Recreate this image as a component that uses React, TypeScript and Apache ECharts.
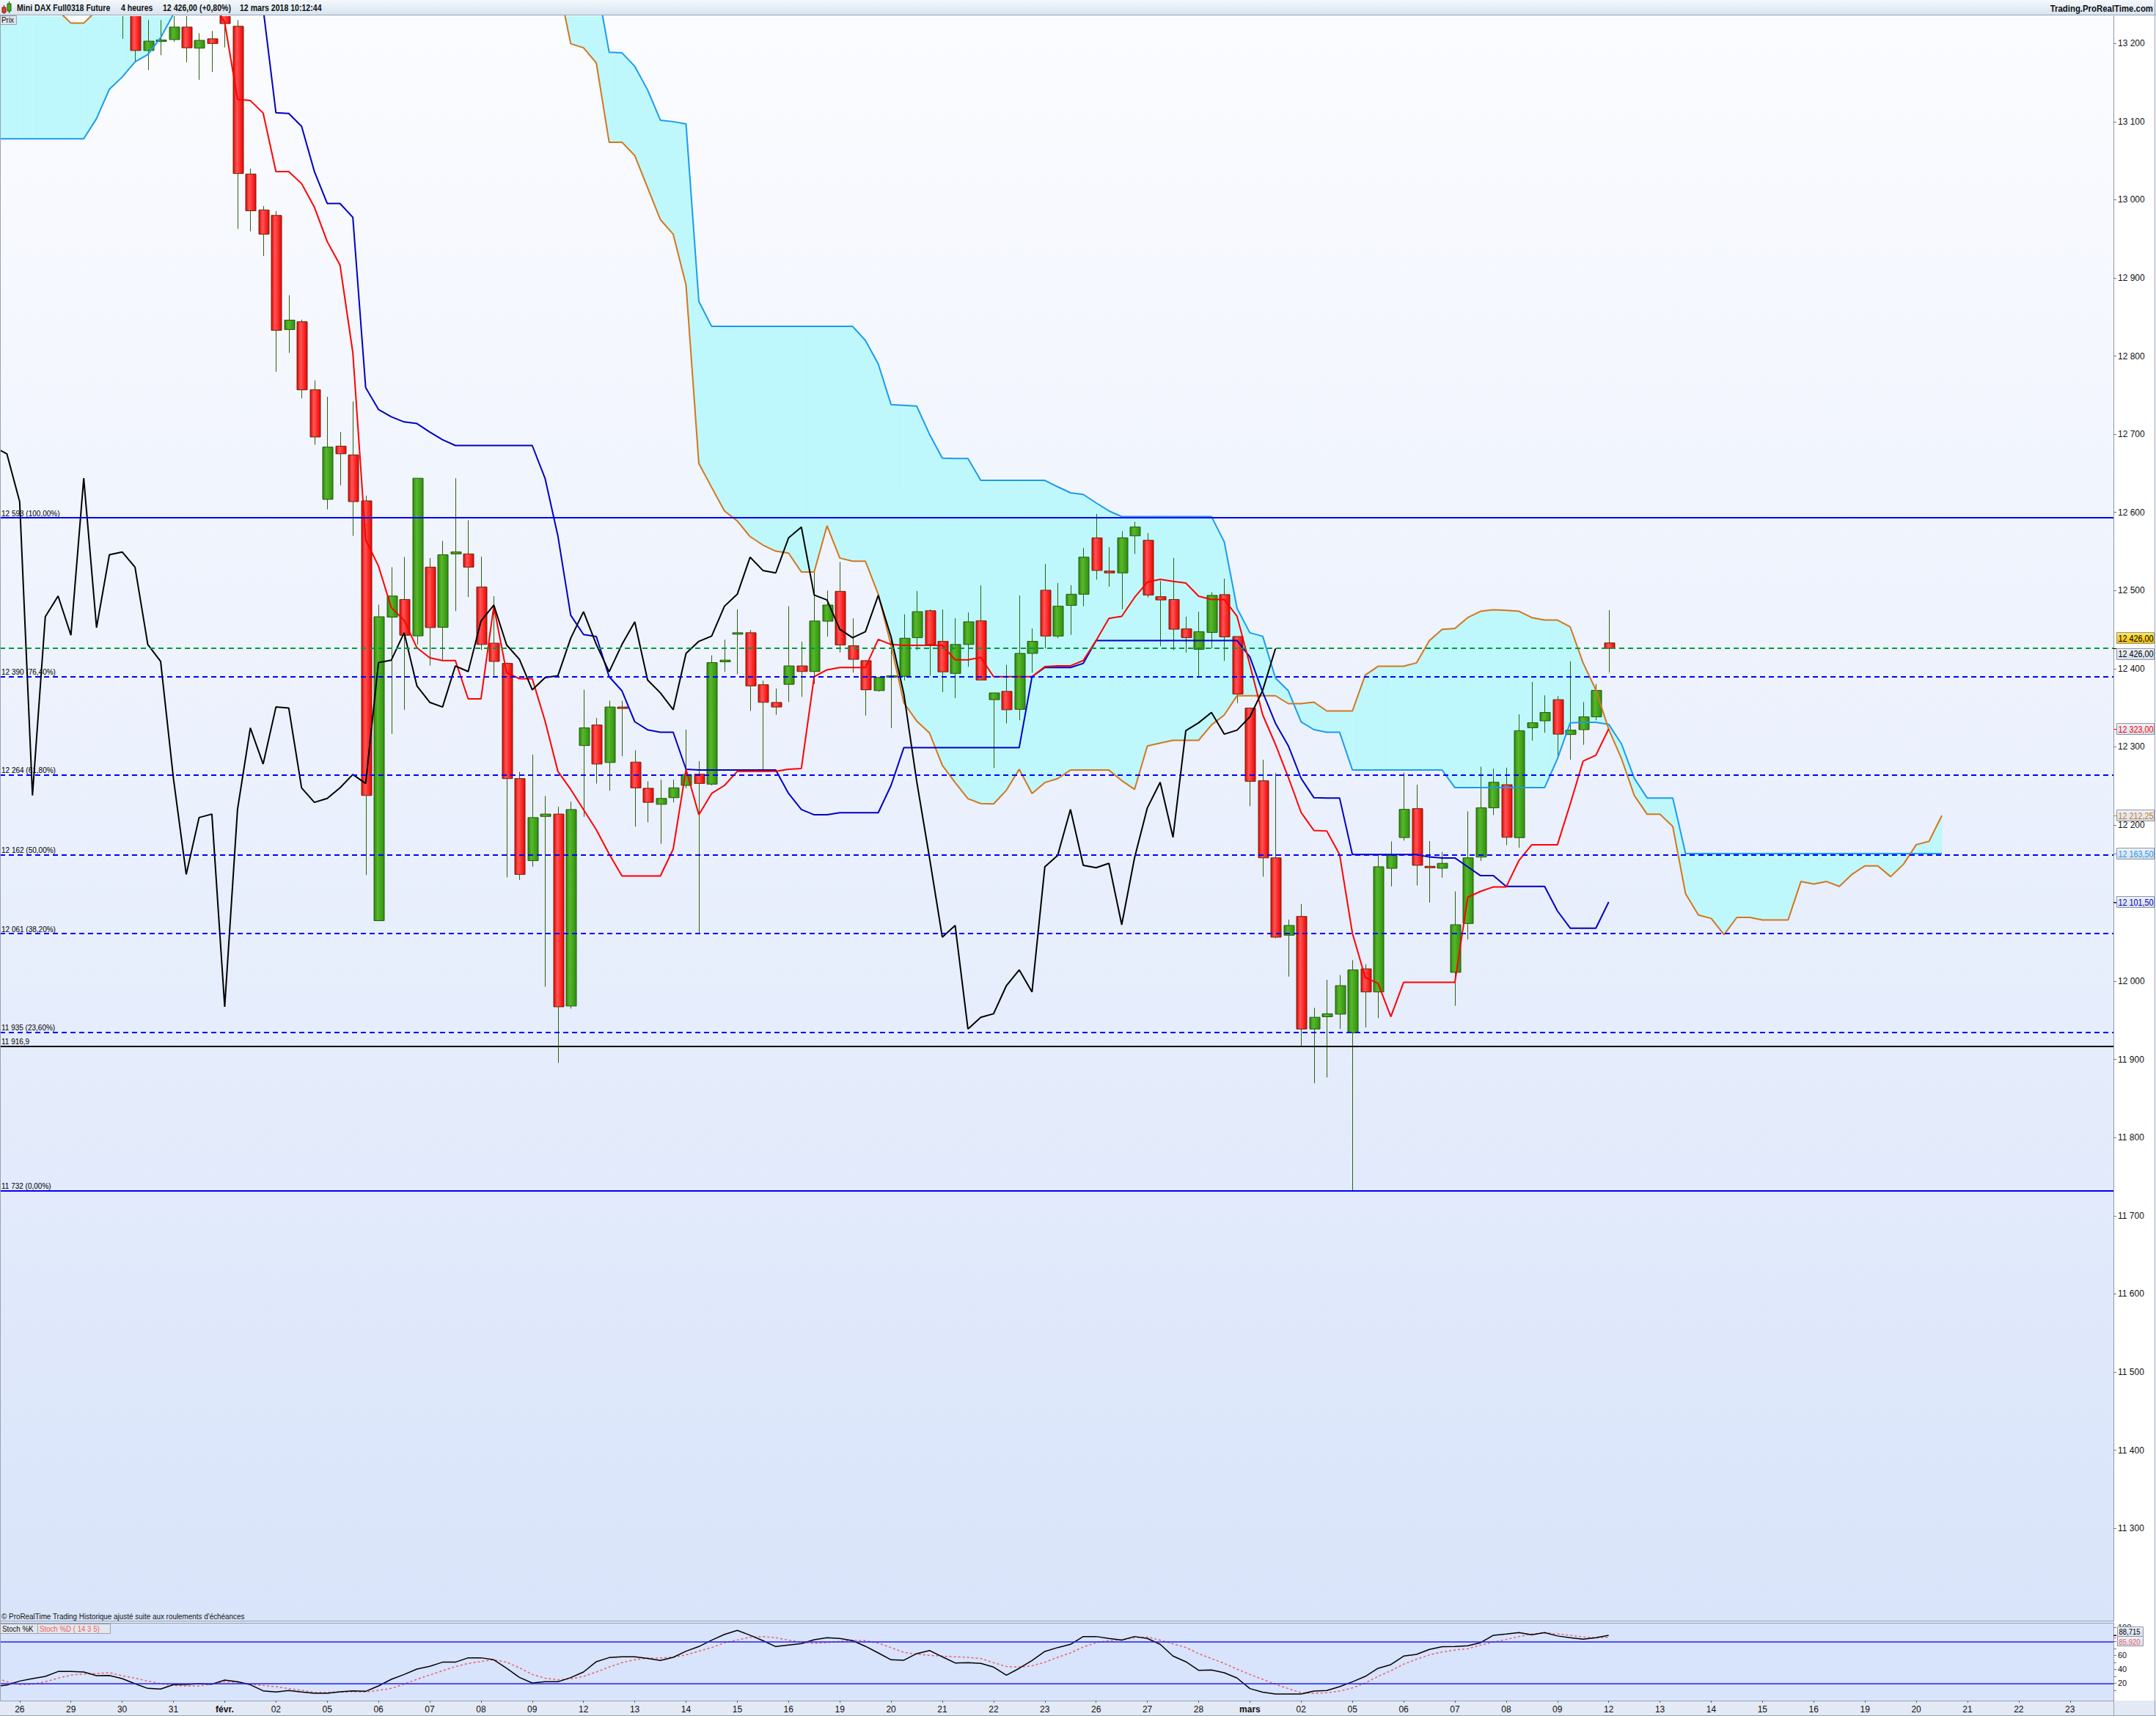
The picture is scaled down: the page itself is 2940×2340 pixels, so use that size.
import React, { useEffect, useRef } from "react";
import * as echarts from "echarts";

// ---------- DATA ----------
// one label per trading session, placed on its first 4-hour bar (bar index = 4 * k)
const DAY_LABELS = ["26", "29", "30", "31", "févr.", "02", "05", "06", "07", "08", "09", "12", "13", "14", "15", "16", "19", "20", "21", "22", "23", "26", "27", "28", "mars", "02", "05", "06", "07", "08", "09", "12", "13", "14", "15", "16", "19", "20", "21", "22", "23"];
const MONTH_LABELS = ["févr.", "mars"];
const BARS_PER_DAY = 4;

// candles, bar index 8 .. 124
const CANDLE_START = 8;
const OPEN = [13236, 13250, 13191, 13203, 13205, 13221, 13194, 13206, 13242, 13222,
  13033, 12987, 12980, 12834, 12844, 12757, 12616.7, 12684.8, 12673.6, 12614.8,
  12077.6, 12466, 12488.6, 12442, 12530, 12453, 12546.9, 12546.9, 12504.6, 12432.7,
  12406.8, 12259.4, 12154.4, 12211, 12214, 11968.4, 12301.7, 12328, 12280, 12351,
  12280.5, 12247, 12226.5, 12235, 12250.7, 12265, 12252.3, 12408.8, 12444.3, 12446,
  12379.5, 12356.8, 12380, 12403.6, 12396.4, 12460.8, 12499, 12429.4, 12410.3, 12372,
  12389, 12390.3, 12439.7, 12474.2, 12435, 12394, 12431, 12461.3, 12360.4, 12371,
  12348, 12419.6, 12500.4, 12441.8, 12481, 12495.3, 12567.4, 12525, 12522.6, 12570,
  12564.3, 12492.2, 12488.6, 12451, 12424.8, 12446.4, 12494.8, 12441.2, 12349.6, 12256.6,
  12158, 12059, 12083, 11939, 11954.7, 11958, 11934, 12016, 11986.4, 12144.6,
  12184, 12221, 12147.2, 12144.7, 12011.5, 12074, 12159, 12222, 12251.6, 12183.8,
  12324.5, 12333.3, 12360.4, 12315.8, 12322, 12338.4, 12433];
const CLOSE = [13250, 13191, 13203, 13204.5, 13221, 13194.5, 13204, 13200, 13225.5, 13033.6,
  12986, 12956, 12833, 12846, 12756.8, 12696.5, 12683.6, 12675, 12613.8, 12237.8,
  12466.5, 12493, 12442.8, 12643.7, 12452.6, 12545.8, 12549.4, 12530, 12431, 12409.3,
  12259.4, 12136.8, 12209.5, 12214, 11967.4, 12219.8, 12324.3, 12278, 12351, 12349.6,
  12247.5, 12229, 12234, 12247.6, 12264.6, 12253.2, 12407.8, 12411, 12446, 12378,
  12357, 12351, 12403.6, 12396.4, 12461, 12481.5, 12430.4, 12412, 12373, 12388.7,
  12391, 12439, 12473, 12431, 12396, 12431, 12460, 12385.6, 12369, 12347.5,
  12419.6, 12435, 12441.8, 12480, 12495.3, 12542.7, 12525.7, 12522.6, 12567.4, 12581.3,
  12494.3, 12488, 12450.5, 12439.7, 12447.4, 12493.8, 12440.7, 12367.6, 12255.9, 12158,
  12056.5, 12071.5, 11939, 11954, 11958.5, 11994.5, 12014.6, 11986.4, 12146.6, 12161,
  12220, 12148.5, 12145.4, 12151, 12072.4, 12158, 12222, 12254.7, 12184.3, 12320.7,
  12330.8, 12344, 12316.3, 12321.4, 12338.4, 12372.3, 12426];
const LOW = [13206, 13176, 13166, 13185, 13202, 13176, 13153.5, 13163.5, 13195, 12962.6,
  12959.5, 12928, 12780, 12804, 12746, 12686.6, 12603.8, 12634.8, 12570, 12136,
  12077, 12316.6, 12347.5, 12431, 12404, 12411.4, 12473.7, 12491.7, 12424, 12391,
  12133, 12129.7, 12146.7, 11993, 11895.6, 11965, 12210.5, 12253, 12244, 12288,
  12198, 12203.6, 12176, 12229, 12247, 12061, 12250.7, 12396, 12393, 12346,
  12271.3, 12341, 12357.5, 12364, 12380.5, 12441, 12420.7, 12395, 12340, 12370.6,
  12324, 12385, 12423.8, 12391, 12370, 12362.4, 12402.5, 12385, 12273, 12330,
  12334, 12395, 12425.8, 12439, 12443.3, 12480, 12514, 12505, 12476, 12547,
  12491.2, 12428.8, 12423.8, 12420.6, 12388, 12425.8, 12410, 12356, 12224, 12134,
  12055, 12006, 11916, 11869.7, 11877, 11939, 11732, 11941, 11953, 12121.5,
  12180, 12122.7, 12100.7, 12132.6, 11968.7, 12053.6, 12154, 12212.7, 12174.3, 12171,
  12308, 12318, 12284.7, 12283.6, 12302.6, 12334, 12395];
const HIGH = [13262, 13256, 13230, 13230, 13235, 13235, 13213, 13216, 13250, 13230,
  13040, 12992, 12985.6, 12878, 12846.7, 12769, 12748, 12703, 12742, 12621.5,
  12482, 12530, 12543, 12643.7, 12541.7, 12563.5, 12643.7, 12590, 12543.4, 12492.8,
  12408, 12268, 12290, 12237, 12223.4, 12230, 12373, 12337, 12359, 12359,
  12295.6, 12256, 12258, 12258, 12322, 12281.6, 12417, 12437.3, 12476, 12449.5,
  12384.7, 12374.5, 12480, 12434.5, 12523.6, 12500, 12536.6, 12464.5, 12411, 12389.8,
  12441, 12469.6, 12499.4, 12475.8, 12475.8, 12464.5, 12472, 12506.7, 12369, 12405,
  12493.8, 12451.5, 12534, 12509.7, 12507, 12554.6, 12598, 12555.6, 12576, 12588,
  12573.6, 12512.3, 12541.7, 12466.5, 12473, 12498, 12515.3, 12441.2, 12349.6, 12283.6,
  12266.4, 12079, 12099, 11966, 12002, 12008, 12027, 12022, 12162, 12179,
  12267, 12251.6, 12179.4, 12165.5, 12115, 12217.5, 12274.6, 12272, 12273.4, 12341.5,
  12383, 12366, 12364.8, 12409.4, 12357.3, 12380.5, 12475];

// Ichimoku: Tenkan (red), bars 15 .. 124
const TENKAN_START = 15;
const TENKAN = [13255, 13227, 13128.6, 13127, 13111, 13036, 13036, 13020.7, 12990.5, 12946.6,
  12916.4, 12804.3, 12565, 12531.4, 12478.3, 12461.9, 12426.8, 12414, 12410.4, 12410.4,
  12361.4, 12361.4, 12479.9, 12394.9, 12387.2, 12387.2, 12333, 12268.7, 12245.6, 12219.8,
  12194, 12163, 12134.8, 12134.8, 12134.8, 12134.8, 12169.3, 12271.3, 12213.1, 12240.4,
  12250.7, 12268.7, 12268.7, 12268.7, 12268.7, 12271.3, 12272.3, 12389.8, 12398.5, 12401.6,
  12401.6, 12401.6, 12437.6, 12431, 12429.9, 12429.9, 12429.9, 12429.9, 12411.4, 12411.4,
  12414.5, 12389.8, 12389.8, 12389.8, 12389.8, 12402.6, 12403.7, 12403.7, 12410.4, 12436.1,
  12464.4, 12467, 12491.2, 12510.8, 12514.4, 12511.8, 12509.7, 12492.8, 12488.6, 12488.6,
  12467, 12405, 12341, 12303, 12261, 12216, 12193, 12192.4, 12162.3, 12061.7,
  12005, 11997.5, 11954.8, 11998.8, 11998.8, 11998.8, 11998.8, 11998.8, 12107.6, 12115.1,
  12120.8, 12120.8, 12154.7, 12174.8, 12174.8, 12174.8, 12227, 12281.7, 12289.3, 12323];

// Kijun (dark blue), bars 19 .. 124
const KIJUN_START = 19;
const KIJUN = [13245, 13111.3, 13110.4, 13094, 13036.2, 12995.3, 12995.3, 12977.6, 12759.8, 12731.8,
  12722.3, 12715.8, 12713.7, 12702.9, 12693, 12685.6, 12685.6, 12685.6, 12685.6, 12685.6,
  12685.6, 12685.6, 12643.6, 12570, 12468.5, 12443.8, 12441.2, 12389.8, 12371.7, 12332.1,
  12321.8, 12318.7, 12318.7, 12271.3, 12270.3, 12270.3, 12270.3, 12270.3, 12270.3, 12270.3,
  12270.3, 12240.4, 12219.8, 12213.1, 12213.1, 12215.7, 12215.7, 12215.7, 12215.7, 12250.7,
  12299.1, 12299.1, 12299.1, 12299.1, 12299.1, 12299.1, 12299.1, 12299.1, 12299.1, 12299.1,
  12389.8, 12401.6, 12401.6, 12401.6, 12406.8, 12436.1, 12436.1, 12436.1, 12436.1, 12436.1,
  12436.1, 12436.1, 12436.1, 12436.1, 12436.1, 12436.1, 12436.1, 12415, 12370, 12330,
  12301.4, 12259.6, 12234.9, 12234.6, 12234.6, 12162.3, 12162.3, 12162.3, 12162.3, 12162.3,
  12162.3, 12159.1, 12157.9, 12157.9, 12146.5, 12135.2, 12135.2, 12121.4, 12121.4, 12121.4,
  12121.4, 12090, 12068, 12068, 12068, 12101.5];

// Chikou (black), bars -2 .. 98
const CHIKOU_START = -2;
const CHIKOU = [12683.6, 12675, 12613.8, 12237.8, 12466.5, 12493, 12442.8, 12643.7, 12452.6, 12545.8,
  12549.4, 12530, 12431, 12409.3, 12259.4, 12136.8, 12209.5, 12214, 11967.4, 12219.8,
  12324.3, 12278, 12351, 12349.6, 12247.5, 12229, 12234, 12247.6, 12264.6, 12253.2,
  12407.8, 12411, 12446, 12378, 12357, 12351, 12403.6, 12396.4, 12461, 12481.5,
  12430.4, 12412, 12373, 12388.7, 12391, 12439, 12473, 12431, 12396, 12431,
  12460, 12385.6, 12369, 12347.5, 12419.6, 12435, 12441.8, 12480, 12495.3, 12542.7,
  12525.7, 12522.6, 12567.4, 12581.3, 12494.3, 12488, 12450.5, 12439.7, 12447.4, 12493.8,
  12440.7, 12367.6, 12255.9, 12158, 12056.5, 12071.5, 11939, 11954, 11958.5, 11994.5,
  12014.6, 11986.4, 12146.6, 12161, 12220, 12148.5, 12145.4, 12151, 12072.4, 12158,
  12222, 12254.7, 12184.3, 12320.7, 12330.8, 12344, 12316.3, 12321.4, 12338.4, 12372.3, 12426];

// Senkou spans (plotted 26 bars ahead), bars -2 .. 150
const SPAN_START = -2;
const SENKOU_A = [13270, 13266, 13262, 13258, 13252, 13242, 13226, 13226, 13242, 13290,
  13300, 13300, 13300, 13300, 13300, 13300, 13300, 13300, 13300, 13300,
  13300, 13300, 13300, 13300, 13300, 13300, 13300, 13300, 13300, 13300,
  13300, 13300, 13300, 13300, 13300, 13300, 13300, 13300, 13300, 13300,
  13300, 13300, 13300, 13300, 13280, 13199.7, 13194.5, 13175, 13073.7, 13073.7,
  13056.5, 13015.5, 12974.6, 12955.9, 12891, 12662.7, 12632, 12601.9, 12589, 12569,
  12558.2, 12550.4, 12547.9, 12523.7, 12523.7, 12582.9, 12541.7, 12537.6, 12537.6, 12495.3,
  12430, 12356.3, 12333.1, 12317.7, 12276.4, 12254.3, 12233.7, 12227.5, 12227, 12244.5,
  12271.3, 12240.4, 12254.3, 12259.4, 12270.3, 12270.3, 12270.3, 12270.3, 12256.9, 12245.6,
  12301.2, 12304.8, 12308.4, 12308.4, 12308.4, 12328, 12340.8, 12365.5, 12365.5, 12365.4,
  12365.4, 12355.3, 12355.3, 12357.2, 12345.9, 12345.9, 12345.9, 12391.8, 12403.1, 12403.1,
  12403.1, 12407.5, 12435.8, 12450.3, 12451.5, 12465.4, 12473.5, 12475.4, 12474.8, 12473.5,
  12465.4, 12462.2, 12462.2, 12453.4, 12407.5, 12372.9, 12322.6, 12284.9, 12237.7, 12213.8,
  12213.8, 12198.1, 12112, 12084.9, 12080.5, 12059.8, 12081.8, 12081.8, 12078.6, 12078.6,
  12078.6, 12127.7, 12124.5, 12127.7, 12121.4, 12137.1, 12147.8, 12147.8, 12134, 12149.7,
  12174.8, 12179.2, 12212.25];
const SENKOU_B = [13078, 13078, 13078, 13078, 13078, 13078, 13078, 13078, 13104, 13141.4,
  13157, 13176.4, 13185.9, 13207.4, 13237.6, 13320, 13320, 13320, 13320, 13320,
  13320, 13320, 13320, 13320, 13320, 13320, 13320, 13320, 13320, 13320,
  13320, 13320, 13320, 13320, 13320, 13320, 13320, 13320, 13320, 13320,
  13320, 13320, 13320, 13320, 13320, 13320, 13320, 13280, 13188.9, 13188,
  13170.8, 13140.6, 13101.8, 13100, 13097, 12870, 12838, 12838, 12838, 12838,
  12838, 12838, 12838, 12838, 12838, 12838, 12838, 12838, 12820, 12790,
  12738, 12737, 12736, 12700, 12669.4, 12668.9, 12668.9, 12641, 12641, 12641,
  12641, 12641, 12641, 12632.8, 12625.1, 12623, 12612.2, 12601.9, 12594.7, 12594.7,
  12594.7, 12594.7, 12594.7, 12594.7, 12594.7, 12594.7, 12562.3, 12477.3, 12446, 12441.5,
  12388, 12371.7, 12332, 12322, 12318.8, 12318.8, 12270.4, 12270.4, 12270.4, 12270.4,
  12270.4, 12270.4, 12270.4, 12270.4, 12247.8, 12247.8, 12247.8, 12247.8, 12247.8, 12247.8,
  12247.8, 12247.8, 12284.9, 12330.8, 12331.4, 12331.4, 12328.9, 12303.7, 12259.7, 12234.6,
  12234.6, 12234.6, 12163.5, 12163.5, 12163.5, 12163.5, 12163.5, 12163.5, 12163.5, 12163.5,
  12163.5, 12163.5, 12163.5, 12163.5, 12163.5, 12163.5, 12163.5, 12163.5, 12163.5, 12163.5,
  12163.5, 12163.5, 12163.5];

// Stochastic (14 3 5), bars -2 .. 124
const STOCH_START = -2;
const STOCH_K = [15, 17.5, 23.1, 26.6, 29.8, 36.8, 36.8, 36.1, 30.8, 31.2,
  26.6, 19.3, 12.6, 11.6, 17.9, 18.2, 19.3, 18.6, 24.5, 22.1,
  17.9, 9.1, 7.4, 9.5, 7.4, 5.6, 5.6, 7.7, 9.1, 8.4,
  16.1, 25.6, 32.6, 40.3, 44.2, 50.2, 50.2, 56.5, 56.5, 53.7,
  41.4, 28.4, 20.3, 22.1, 22.1, 28.1, 36.1, 50.9, 56.8, 57.9,
  57.9, 55.5, 52.6, 57.2, 66, 72.6, 81.8, 90, 95.8, 88.8,
  81.1, 72.6, 74.7, 76.8, 82.5, 85.3, 84.2, 81.1, 73, 63.5,
  53.7, 53, 62.5, 67, 57.9, 49.1, 49.5, 48.4, 43.2, 31.6,
  41.4, 52.6, 65.6, 71.2, 75.8, 87, 87, 84.2, 81.8, 87,
  84.2, 75.8, 59, 50.9, 38.6, 39, 35.1, 27.4, 12.3, 7.1,
  4.6, 4.6, 4.6, 8.8, 9.5, 15.1, 22.1, 29.8, 41.4, 46.7,
  59, 61.4, 68.4, 72.3, 72.6, 73.7, 78.3, 88.8, 90.6, 92.7,
  89.5, 92.7, 87.8, 85.3, 83.2, 85.3, 88.715];
const STOCH_D = [29, 22.1, 17.9, 18.6, 22.1, 27.3, 31.6, 33.3, 34, 35.1,
  30.8, 27.3, 23.1, 19.3, 16.8, 16.1, 16.1, 19.3, 22.1, 21.4,
  18.6, 16.8, 15.1, 12.3, 9.8, 7, 7, 7.4, 7.7, 7.4,
  9.8, 12.6, 18.6, 25.6, 31.9, 37.9, 43.9, 48.4, 51.2, 53.7,
  50.2, 42.1, 32.6, 27.3, 24.9, 26.3, 29.8, 36.1, 43.2, 49.5,
  53.7, 56.2, 56.2, 57.2, 60.7, 66, 71.2, 78, 82, 86,
  87, 85.3, 81.8, 78.9, 77.2, 78.3, 80, 81.8, 81.1, 77.5,
  71.2, 64.2, 61.8, 60, 59, 57.9, 57.2, 55.5, 49.5, 43.9,
  43.2, 45, 50.2, 57.2, 63.5, 71.9, 78.3, 81.1, 82.5, 85.3,
  86.3, 81.8, 76.5, 71.2, 62.5, 55.5, 48.4, 40.3, 32.6, 25.6,
  18.6, 12.3, 6.3, 5.6, 6.3, 8.8, 13.3, 20.3, 29.8, 37.9,
  47.4, 54.4, 60.7, 64.9, 67.7, 69.5, 74.7, 78.9, 82.8, 87,
  90.6, 92.3, 90.6, 88.8, 86.3, 85.3, 85.92];

// horizontal levels
const FIB_PRICES = [12593, 12390, 12264, 12162, 12061, 11935, 11732];
const FIB_PCTS = [100, 76.4, 61.8, 50, 38.2, 23.6, 0];
const SUPPORT_LEVEL = 11916.9;
const STOCH_BANDS = [80, 20];

// axis ticks
const PRICE_TICKS = [11300, 11400, 11500, 11600, 11700, 11800, 11900, 12000, 12100, 12200, 12300, 12400, 12500, 12600, 12700, 12800, 12900, 13000, 13100, 13200];
const STOCH_LABELS = [20, 40, 60, 100];
const STOCH_TICKS = [10, 20, 30, 40, 50, 60, 70, 80, 90, 100];

// ---------- LAYOUT ----------
const W = 2940;
const H = 2340;
const PANE_W = 2882;
const PRICE_TOP = 22;
const PRICE_H = 2189;
const STOCH_TOP = 2213;
const STOCH_H = 106;
const X_MIN = -1.534;
const X_MAX = 163.39;
const P_MIN = 11181;
const P_MAX = 13235;
const S_MIN = -4.9;
const S_MAX = 106.6;

const SANS = "'Liberation Sans', Arial, 'DejaVu Sans', sans-serif";
const NARROW = "'Liberation Sans Narrow', 'Arial Narrow', 'Liberation Sans', sans-serif";

const C_ORANGE = "#d4761c";
const C_SKY = "#1b9bef";
const C_KIJUN = "#0000c4";
const C_TENKAN = "#ff0000";
const C_KUMO = "#bff8fc";

function pairs(start: number, arr: number[]) {
  return arr.map((v, k) => [start + k, v]);
}
function fmtInt(v: number) {
  const s = String(Math.round(v));
  return s.length > 3 ? s.slice(0, -3) + " " + s.slice(-3) : s;
}
function fmtDec(v: number, d: number) {
  const parts = v.toFixed(d).split(".");
  return fmtInt(Number(parts[0])) + "," + parts[1];
}
function last(a: number[]) {
  return a[a.length - 1];
}

function renderCandle(params: any, api: any) {
  const i = api.value(0);
  const o = api.value(1);
  const c = api.value(2);
  const lo = api.value(3);
  const hi = api.value(4);
  const po = api.coord([i, o]);
  const pc = api.coord([i, c]);
  const pl = api.coord([i, lo]);
  const ph = api.coord([i, hi]);
  const w = Math.round(api.size([1, 0])[0] * 0.8);
  const x = Math.round(po[0]) + 0.5;
  const top = Math.min(po[1], pc[1]);
  const h = Math.max(Math.abs(po[1] - pc[1]), 2);
  const up = c >= o;
  const fill = up
    ? new echarts.graphic.LinearGradient(0, 0, 1, 0, [
        { offset: 0, color: "#2d8a0b" },
        { offset: 0.35, color: "#58b82c" },
        { offset: 1, color: "#2f900e" },
      ])
    : new echarts.graphic.LinearGradient(0, 0, 1, 0, [
        { offset: 0, color: "#e60000" },
        { offset: 0.35, color: "#ff5656" },
        { offset: 1, color: "#f20000" },
      ]);
  return {
    type: "group",
    children: [
      { type: "line", shape: { x1: x, y1: ph[1], x2: x, y2: pl[1] }, style: { stroke: "#2f6010", lineWidth: 1 } },
      {
        type: "rect",
        shape: { x: Math.round(x - w / 2), y: top, width: w, height: h },
        style: { fill, stroke: up ? "#245a08" : "#6a2a08", lineWidth: 1 },
      },
    ],
  };
}

// one polygon per segment between the two senkou spans
function renderKumo(params: any, api: any) {
  const i = api.value(0);
  const a0 = api.coord([i, api.value(1)]);
  const b0 = api.coord([i, api.value(2)]);
  const a1 = api.coord([i + 1, api.value(3)]);
  const b1 = api.coord([i + 1, api.value(4)]);
  return {
    type: "polygon",
    shape: { points: [a0, a1, b1, b0] },
    style: { fill: C_KUMO, stroke: C_KUMO, lineWidth: 0.6 },
  };
}

function staticGraphics() {
  const els: any[] = [];
  let n = 0;
  const add = (e: any) => {
    e.id = "g" + n++;
    els.push(e);
  };
  const hline = (y: number, x1: number, x2: number, color: string) =>
    add({ type: "line", z: 30, silent: true, shape: { x1, y1: y, x2, y2: y }, style: { stroke: color, lineWidth: 1 } });
  const vline = (x: number, y1: number, y2: number, color: string) =>
    add({ type: "line", z: 30, silent: true, shape: { x1: x, y1, x2: x, y2 }, style: { stroke: color, lineWidth: 1 } });
  hline(20.5, 0, W, "#98a3b0");
  hline(2210.5, 0, PANE_W, "#98a3b0");
  hline(2213.5, 0, PANE_W, "#98a3b0");
  hline(H - 0.5, 0, W, "#98a3b0");
  vline(0.5, 21, STOCH_TOP + STOCH_H, "#98a3b0");
  vline(W - 1.5, 0, H, "#98a3b0");
  vline(PANE_W + 0.5, STOCH_TOP + STOCH_H, H, "#98a3b0");
  // header icon
  add({ type: "line", z: 31, shape: { x1: 5.5, y1: 7, x2: 5.5, y2: 19 }, style: { stroke: "#333", lineWidth: 1 } });
  add({ type: "rect", z: 32, shape: { x: 3, y: 10, width: 5, height: 7 }, style: { fill: "#ff3030", stroke: "#6a2a08", lineWidth: 1 } });
  add({ type: "line", z: 31, shape: { x1: 12.5, y1: 2, x2: 12.5, y2: 18 }, style: { stroke: "#333", lineWidth: 1 } });
  add({ type: "rect", z: 32, shape: { x: 10, y: 5, width: 5, height: 10 }, style: { fill: "#3cb01c", stroke: "#245a08", lineWidth: 1 } });
  const htext = (x: number, text: string, align = "left", size = 12, sx = 0.88) =>
    add({
      type: "text", z: 33, x, y: 11, scaleX: sx,
      style: { text, fill: "#111", fontSize: size, fontWeight: "bold", fontFamily: SANS, align, verticalAlign: "middle" },
    });
  htext(23, "Mini DAX Full0318 Future");
  htext(165, "4 heures");
  htext(222, "12 426,00 (+0,80%)");
  htext(327, "12 mars 2018 10:12:44");
  htext(2936, "Trading.ProRealTime.com", "right", 12, 0.95);
  // "Prix" tab
  add({ type: "rect", z: 33, shape: { x: 0.5, y: 21.5, width: 22, height: 12 }, style: { fill: "#dfe3ea", stroke: "#9aa2ac", lineWidth: 1 } });
  add({ type: "text", z: 34, x: 2, y: 27.5, scaleX: 0.9, style: { text: "Prix", fill: "#111", fontSize: 11, fontFamily: SANS, verticalAlign: "middle" } });
  // footnote
  add({
    type: "text", z: 34, x: 2, y: 2204, scaleX: 0.9,
    style: { text: "© ProRealTime Trading Historique ajusté suite aux roulements d'échéances", fill: "#111", fontSize: 11, fontFamily: SANS, verticalAlign: "middle" },
  });
  // stochastic legend tabs
  add({ type: "rect", z: 33, shape: { x: 0.5, y: 2214.5, width: 51, height: 13 }, style: { fill: "#e4e7ed", stroke: "#9aa2ac", lineWidth: 1 } });
  add({ type: "text", z: 34, x: 3, y: 2221, scaleX: 0.88, style: { text: "Stoch %K", fill: "#111", fontSize: 11, fontFamily: SANS, verticalAlign: "middle" } });
  add({ type: "rect", z: 33, shape: { x: 51.5, y: 2214.5, width: 99, height: 13 }, style: { fill: "#e4e7ed", stroke: "#9aa2ac", lineWidth: 1 } });
  add({ type: "text", z: 34, x: 54, y: 2221, scaleX: 0.88, style: { text: "Stoch %D ( 14 3 5)", fill: "#f06060", fontSize: 11, fontFamily: SANS, verticalAlign: "middle" } });
  return els;
}

function valueBoxes(chart: any) {
  const els: any[] = [];
  const lc = last(CLOSE);
  const specs = [
    { axis: 0, v: lc, text: fmtDec(lc, 2), color: "#000", shift: -14.5, yellow: true },
    { axis: 0, v: lc, text: fmtDec(lc, 2), color: "#000", shift: 7, yellow: false },
    { axis: 0, v: last(TENKAN), text: fmtDec(last(TENKAN), 2), color: C_TENKAN, shift: 0, yellow: false },
    { axis: 0, v: last(SENKOU_A), text: fmtDec(last(SENKOU_A), 2), color: C_ORANGE, shift: 0, yellow: false },
    { axis: 0, v: last(SENKOU_B), text: fmtDec(last(SENKOU_B), 2), color: C_SKY, shift: 0, yellow: false },
    { axis: 0, v: last(KIJUN), text: fmtDec(last(KIJUN), 2), color: C_KIJUN, shift: 0, yellow: false },
    { axis: 1, v: last(STOCH_K), text: fmtDec(last(STOCH_K), 3), color: "#000", shift: -6, yellow: false },
    { axis: 1, v: last(STOCH_D), text: fmtDec(last(STOCH_D), 3), color: "#f06060", shift: 5, yellow: false },
  ];
  specs.forEach((s, k) => {
    const py = chart.convertToPixel({ yAxisIndex: s.axis }, s.v) as number;
    const y = py + s.shift;
    const price = s.axis === 0;
    const bw = price ? 51 : 35;
    const bh = price ? 15 : 13;
    const bx = price ? 2886.5 : 2887.5;
    els.push({
      type: "line", id: "vt" + k, z: 40, silent: true,
      shape: { x1: PANE_W, y1: Math.round(py) + 0.5, x2: PANE_W + 4, y2: Math.round(py) + 0.5 },
      style: { stroke: s.color, lineWidth: 1 },
    });
    els.push({
      type: "rect", id: "vb" + k, z: 41, silent: true,
      shape: { x: bx, y: Math.round(y - bh / 2) + 0.5, width: bw, height: bh },
      style: {
        fill: s.yellow
          ? new echarts.graphic.LinearGradient(0, 0, 0, 1, [{ offset: 0, color: "#ffe65a" }, { offset: 1, color: "#f2bc00" }])
          : new echarts.graphic.LinearGradient(0, 0, 0, 1, [{ offset: 0, color: "#eef2f8" }, { offset: 1, color: "#d6dfec" }]),
        stroke: "#8c96a6", lineWidth: 1,
      },
    });
    els.push({
      type: "text", id: "vx" + k, z: 42, silent: true, x: bx + 2, y: Math.round(y) + 1, scaleX: price ? 0.9 : 0.86,
      style: { text: s.text, fill: s.color, fontSize: price ? 12 : 11, fontFamily: SANS, verticalAlign: "middle" },
    });
  });
  return els;
}

function buildOption() {
  const candleData = OPEN.map((o, k) => [CANDLE_START + k, o, CLOSE[k], LOW[k], HIGH[k]]);
  const kumoData = SENKOU_A.slice(0, -1).map((a, k) => [SPAN_START + k, a, SENKOU_B[k], SENKOU_A[k + 1], SENKOU_B[k + 1]]);
  const dayTicks = DAY_LABELS.map((_, k) => k * BARS_PER_DAY);

  const priceLine = (name: string, start: number, arr: number[], color: string, width: number, z: number) => ({
    type: "line", name, xAxisIndex: 0, yAxisIndex: 0, data: pairs(start, arr),
    symbol: "none", showSymbol: false, silent: true, clip: true, z,
    lineStyle: { color, width },
  });

  const fibLines = FIB_PRICES.map((p, k) => {
    const solid = FIB_PCTS[k] === 100 || FIB_PCTS[k] === 0;
    return {
      yAxis: p,
      lineStyle: { color: "#0000ff", width: 2, type: solid ? "solid" : [7, 5] },
      label: {
        show: true, position: "insideStartTop", distance: [2, 1],
        formatter: fmtInt(p) + " (" + FIB_PCTS[k].toFixed(2).replace(".", ",") + "%)",
        color: "#000", fontSize: 10, fontFamily: SANS,
      },
    };
  });

  return {
    animation: false,
    backgroundColor: "transparent",
    textStyle: { fontFamily: SANS },
    grid: [
      { left: 0, top: PRICE_TOP, width: PANE_W, height: PRICE_H, containLabel: false, outerBoundsMode: "none" },
      { left: 0, top: STOCH_TOP, width: PANE_W, height: STOCH_H, containLabel: false, outerBoundsMode: "none" },
    ],
    xAxis: [
      { type: "value", gridIndex: 0, min: X_MIN, max: X_MAX, show: false, axisLine: { show: false, onZero: false }, splitLine: { show: false } },
      {
        type: "value", gridIndex: 1, min: X_MIN, max: X_MAX, position: "bottom",
        axisLine: { show: true, onZero: false, lineStyle: { color: "#98a3b0", width: 1 } },
        axisTick: { show: true, customValues: dayTicks, length: 3, lineStyle: { color: "#5a6270" } },
        axisLabel: {
          show: true, customValues: dayTicks, margin: 6, fontSize: 12, fontFamily: NARROW, color: "#111",
          formatter: (v: number) => {
            const t = DAY_LABELS[Math.round(v / BARS_PER_DAY)] || "";
            return MONTH_LABELS.indexOf(t) >= 0 ? "{b|" + t + "}" : t;
          },
          rich: { b: { fontWeight: "bold", fontSize: 12, fontFamily: NARROW, color: "#111" } },
        },
        splitLine: { show: false },
      },
    ],
    yAxis: [
      {
        type: "value", gridIndex: 0, position: "right", min: P_MIN, max: P_MAX, scale: true,
        axisLine: { show: true, onZero: false, lineStyle: { color: "#8e99a8", width: 1 } },
        axisTick: { show: true, customValues: PRICE_TICKS, length: 4, lineStyle: { color: "#777" } },
        axisLabel: { show: true, customValues: PRICE_TICKS, formatter: (v: number) => fmtInt(v), margin: 6, fontSize: 12, fontFamily: SANS, color: "#111" },
        splitLine: { show: false },
      },
      {
        type: "value", gridIndex: 1, position: "right", min: S_MIN, max: S_MAX, scale: true,
        axisLine: { show: true, onZero: false, lineStyle: { color: "#8e99a8", width: 1 } },
        axisTick: { show: true, customValues: STOCH_TICKS, length: 4, lineStyle: { color: "#777" } },
        axisLabel: { show: true, customValues: STOCH_LABELS, margin: 6, fontSize: 11, fontFamily: NARROW, color: "#111" },
        splitLine: { show: false },
      },
    ],
    series: [
      {
        type: "custom", name: "kumo", xAxisIndex: 0, yAxisIndex: 0, data: kumoData,
        renderItem: renderKumo, encode: { x: 0, y: [1, 2, 3, 4] }, clip: true, silent: true, z: 1,
      },
      {
        type: "custom", name: "candles", xAxisIndex: 0, yAxisIndex: 0, data: candleData,
        renderItem: renderCandle, encode: { x: 0, y: [1, 2, 3, 4] }, clip: true, silent: true, z: 2,
      },
      priceLine("senkouB", SPAN_START, SENKOU_B, C_SKY, 2, 3),
      priceLine("senkouA", SPAN_START, SENKOU_A, C_ORANGE, 2, 3),
      priceLine("kijun", KIJUN_START, KIJUN, C_KIJUN, 2, 3),
      priceLine("tenkan", TENKAN_START, TENKAN, C_TENKAN, 2, 3),
      priceLine("chikou", CHIKOU_START, CHIKOU, "#000000", 2, 4),
      {
        type: "line", name: "levels", xAxisIndex: 0, yAxisIndex: 0, data: [], silent: true, z: 6,
        markLine: {
          silent: true, symbol: ["none", "none"], animation: false,
          data: [
            ...fibLines,
            {
              yAxis: SUPPORT_LEVEL,
              lineStyle: { color: "#000", width: 2, type: "solid" },
              label: { show: true, position: "insideStartTop", distance: [2, 1], formatter: fmtDec(SUPPORT_LEVEL, 1), color: "#000", fontSize: 10, fontFamily: SANS },
            },
            {
              yAxis: last(CLOSE),
              lineStyle: { color: "#009a3c", width: 2, type: [7, 5] },
              label: { show: false },
            },
          ],
        },
      },
      {
        type: "line", name: "Stoch %K", xAxisIndex: 1, yAxisIndex: 1, data: pairs(STOCH_START, STOCH_K),
        symbol: "none", showSymbol: false, silent: true, clip: true, z: 4,
        lineStyle: { color: "#000", width: 1.5 },
        markLine: {
          silent: true, symbol: ["none", "none"], animation: false,
          lineStyle: { color: "#2020e8", width: 1.5, type: "solid" },
          label: { show: false },
          data: STOCH_BANDS.map((b) => ({ yAxis: b })),
        },
      },
      {
        type: "line", name: "Stoch %D", xAxisIndex: 1, yAxisIndex: 1, data: pairs(STOCH_START, STOCH_D),
        symbol: "none", showSymbol: false, silent: true, clip: true, z: 3,
        lineStyle: { color: "#f06060", width: 1.5, type: [3, 3] },
      },
    ],
    graphic: { elements: staticGraphics() },
  };
}

const bg = (left: number, top: number, width: number, height: number, background: string) => (
  <div style={{ position: "absolute", left, top, width, height, background }} />
);

export default function App() {
  const ref = useRef<HTMLDivElement>(null);
  useEffect(() => {
    const el = ref.current;
    if (!el) return;
    const chart = echarts.init(el, null, { renderer: "svg" });
    const option: any = buildOption();
    chart.setOption(option);
    const boxes = valueBoxes(chart);
    chart.setOption({ graphic: { elements: [...option.graphic.elements, ...boxes] } });
    return () => {
      chart.dispose();
    };
  }, []);
  return (
    <div style={{ position: "fixed", left: 0, top: 0, width: W, height: H, background: "#ffffff", overflow: "hidden" }}>
      {bg(0, 0, W, 21, "linear-gradient(#f4f8fc, #d6e3f0)")}
      {bg(0, 21, PANE_W, STOCH_TOP - 21, "linear-gradient(#fbfcff, #d9e4fa)")}
      {bg(0, STOCH_TOP, PANE_W, STOCH_H, "#d8e3fc")}
      {bg(0, STOCH_TOP + STOCH_H, W, H - STOCH_TOP - STOCH_H, "#e3e9f5")}
      {bg(PANE_W, 21, W - PANE_W, STOCH_TOP + STOCH_H - 21, "#ffffff")}
      <div ref={ref} style={{ position: "absolute", left: 0, top: 0, width: W, height: H }} />
    </div>
  );
}
